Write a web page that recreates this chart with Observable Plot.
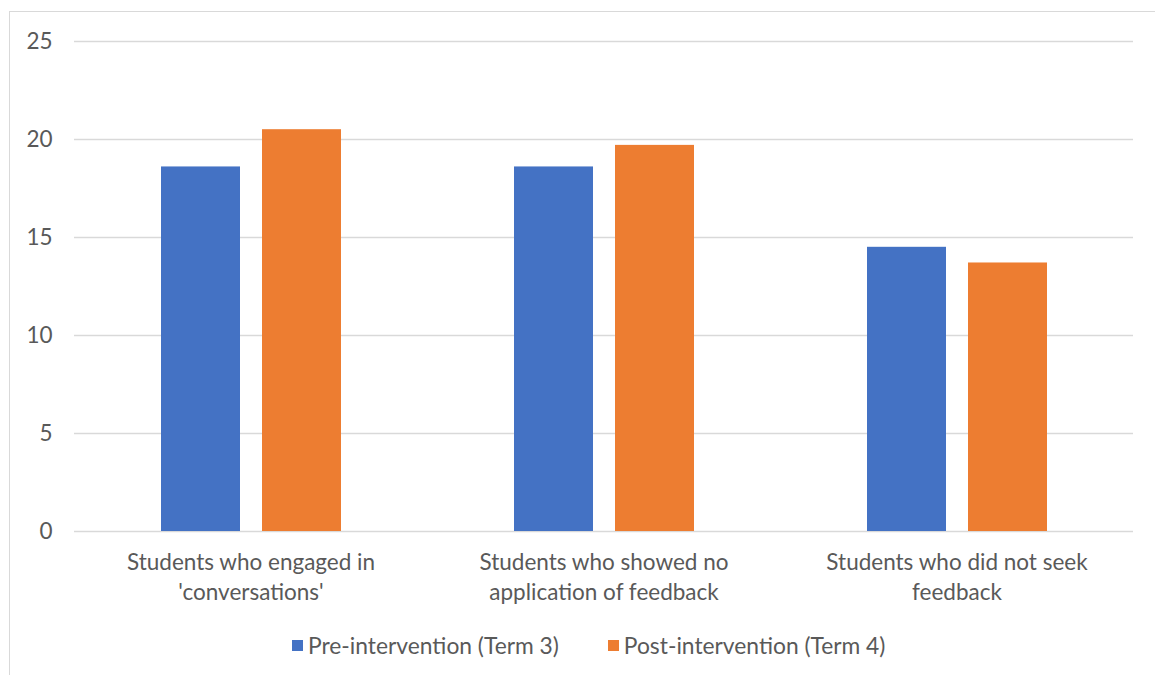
<!DOCTYPE html>
<html>
<head>
<meta charset="utf-8">
<script src="https://cdn.jsdelivr.net/npm/d3@7"></script>
<script src="https://cdn.jsdelivr.net/npm/@observablehq/plot@0.6"></script>
<style>
  body { margin: 0; background: #fff; font-family: Lato, "Open Sans", sans-serif; }
  #frame { position: absolute; left: 9px; top: 11px; width: 1160px; height: 670px;
           border-top: 1px solid #d9d9d9; border-left: 1px solid #d9d9d9; }
  #chart { position: absolute; left: 0; top: 0; }
  #legend { position: absolute; left: 292px; top: 631px; display: flex; align-items: center;
            font-size: 22.8px; color: #595959; white-space: nowrap; }
  .item { display: flex; align-items: center; margin-right: 49px; }
  .swatch { width: 11px; height: 11px; margin-right: 5px; }
</style>
</head>
<body>
<div id="frame"></div>
<div id="chart"></div>
<div id="legend"></div>
<script>
const categories = [
  "Students who engaged in 'conversations'",
  "Students who showed no application of feedback",
  "Students who did not seek feedback"
];
const categoryLabels = [
  "Students who engaged in\n'conversations'",
  "Students who showed no\napplication of feedback",
  "Students who did not seek\nfeedback"
];
const series = ["Pre-intervention (Term 3)", "Post-intervention (Term 4)"];
const colors = ["#4472C4", "#ED7D31"];
const preValues = [18.6, 18.6, 14.5];
const postValues = [20.5, 19.7, 13.7];
const yTicks = [0, 5, 10, 15, 20, 25];

const rows = [];
categories.forEach((c, i) => {
  rows.push({category: c, series: series[0], value: preValues[i]});
  rows.push({category: c, series: series[1], value: postValues[i]});
});

const chart = Plot.plot({
  width: 1155,
  height: 620,
  marginLeft: 74,
  marginRight: 22,
  marginTop: 41,
  marginBottom: 89,
  style: {fontFamily: "Lato, 'Open Sans', sans-serif", fontSize: "22.5px", background: "transparent"},
  fx: {domain: categories, padding: 0, label: null},
  x: {domain: series, paddingInner: 0.218, paddingOuter: 0.856, axis: null},
  y: {domain: [0, 25], label: null},
  color: {domain: series, range: colors},
  marks: [
    Plot.gridY(yTicks, {stroke: "#d9d9d9", strokeOpacity: 1, strokeWidth: 1.3}),
    Plot.barY(rows, {fx: "category", x: "series", y: "value", fill: "series"}),
    Plot.axisY(yTicks, {tickSize: 0, tickPadding: 22, fill: "#595959", fontSize: 22.5, label: null}),
    Plot.axisFx({
      anchor: "bottom", tickSize: 0, tickPadding: 18, fill: "#595959", fontSize: 22.5,
      lineHeight: 1.31, label: null,
      tickFormat: (d) => categoryLabels[categories.indexOf(d)]
    })
  ]
});
document.getElementById("chart").appendChild(chart);

const legend = document.getElementById("legend");
series.forEach((s, i) => {
  const item = document.createElement("div");
  item.className = "item";
  const sw = document.createElement("span");
  sw.className = "swatch";
  sw.style.background = colors[i];
  const label = document.createElement("span");
  label.textContent = s;
  item.appendChild(sw);
  item.appendChild(label);
  legend.appendChild(item);
});
</script>
</body>
</html>
